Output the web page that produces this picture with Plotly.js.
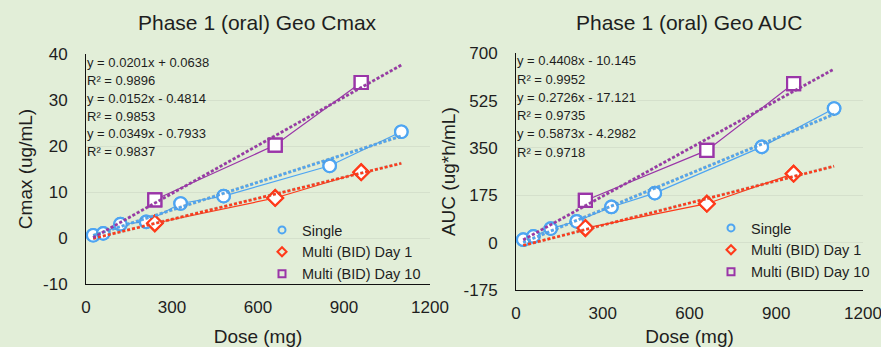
<!DOCTYPE html>
<html>
<head>
<meta charset="utf-8">
<script src="https://cdn.plot.ly/plotly-3.0.1.min.js"></script>
<style>html,body{margin:0;padding:0;background:#e2eed8;}#chart{width:881px;height:347px;}</style>
</head>
<body>
<div id="chart"></div>
<script>
// ---- data ----
const seriesNames = ['Single', 'Multi (BID) Day 1', 'Multi (BID) Day 10'];
const doseSingle = [25, 60, 120, 210, 330, 480, 850, 1100];
const doseMulti = [240, 660, 960];
const cmaxSingle = [0.6, 1.0, 3.0, 3.5, 7.5, 9.1, 15.7, 23.1];
const cmaxDay1 = [3.2, 8.7, 14.3];
const cmaxDay10 = [8.3, 20.2, 33.8];
const aucSingle = [11, 23, 52, 79, 132, 183, 354, 496];
const aucDay1 = [54, 144, 255];
const aucDay10 = [156, 341, 588];
const trendDose = [25, 1100];
const cmaxSlope = [0.0201, 0.0152, 0.0349];
const cmaxIntercept = [0.0638, -0.4814, -0.7933];
const cmaxR2 = [0.9896, 0.9853, 0.9837];
const aucSlope = [0.4408, 0.2726, 0.5873];
const aucIntercept = [-10.145, -17.121, -4.2982];
const aucR2 = [0.9952, 0.9735, 0.9718];
const xTicks = [0, 300, 600, 900, 1200];
const cmaxTicks = [-10, 0, 10, 20, 30, 40];
const aucTicks = [-175, 0, 175, 350, 525, 700];

// ---- styles ----
const colors = ['#4ea5f2', '#ff3a1a', '#9a35a8'];
const symbols = ['circle-open', 'diamond-open', 'square-open'];
const markerSize = [12.5, 12, 13];
const FONT = 'Liberation Sans, Arial, Helvetica, sans-serif';
const TXT = '#1e1e1e';
const BG = '#e2eed8';

const traces = [];
function addChart(xa, ya, legendId, xs, ys, slopes, intercepts) {
  for (let i = 0; i < 3; i++) {
    traces.push({
      x: xs[i], y: ys[i], xaxis: xa, yaxis: ya, mode: 'lines+markers', showlegend: false,
      line: {color: colors[i], width: 1.2},
      marker: {symbol: symbols[i], size: markerSize[i], color: colors[i], line: {width: 2.2, color: colors[i]}},
      hoverinfo: 'x+y'
    });
  }
  for (let i = 0; i < 3; i++) {
    traces.push({
      x: xs[i], y: ys[i], xaxis: xa, yaxis: ya, mode: 'markers', showlegend: false,
      marker: {symbol: symbols[i].replace('-open', ''), size: markerSize[i], color: '#ffffff', line: {width: 2.2, color: colors[i]}},
      hoverinfo: 'skip'
    });
  }
  for (let i = 0; i < 3; i++) {
    const ty = trendDose.map(d => slopes[i] * d + intercepts[i]);
    traces.push({
      x: trendDose, y: ty, xaxis: xa, yaxis: ya,
      mode: 'lines', showlegend: false, line: {color: 'rgba(110,110,110,0.45)', width: 3.2, dash: '3px,2px'}, hoverinfo: 'skip'
    });
    traces.push({
      x: trendDose, y: ty, xaxis: xa, yaxis: ya,
      mode: 'lines', showlegend: false, line: {color: colors[i], width: 2.4, dash: '3px,2px'}, hoverinfo: 'skip'
    });
  }
  for (let i = 0; i < 3; i++) {
    traces.push({
      x: [null], y: [null], xaxis: xa, yaxis: ya, mode: 'markers', name: seriesNames[i], legend: legendId,
      marker: {symbol: symbols[i], size: 7, color: colors[i], line: {width: 2, color: colors[i]}}
    });
  }
}
addChart('x', 'y', 'legend', [doseSingle, doseMulti, doseMulti], [cmaxSingle, cmaxDay1, cmaxDay10], cmaxSlope, cmaxIntercept);
addChart('x2', 'y2', 'legend2', [doseSingle, doseMulti, doseMulti], [aucSingle, aucDay1, aucDay10], aucSlope, aucIntercept);

function eqText(s, b) {
  return 'y = ' + s + 'x ' + (b < 0 ? '- ' + Math.abs(b) : '+ ' + b);
}
const W = 881, H = 347;
const annotations = [];
function addEq(x0, ys, slopes, intercepts, r2) {
  const lines = [];
  for (let i = 0; i < 3; i++) { lines.push(eqText(slopes[i], intercepts[i])); lines.push('R² = ' + r2[i]); }
  lines.forEach((t, k) => annotations.push({
    xref: 'paper', yref: 'paper', x: x0 / W, y: 1 - ys[k] / H, xanchor: 'left', yanchor: 'middle',
    text: t, showarrow: false, font: {family: FONT, size: 13, color: TXT}
  }));
}
addEq(85, [62.7, 80.5, 98.3, 116, 133.7, 151.5], cmaxSlope, cmaxIntercept, cmaxR2);
addEq(515, [61, 79, 97.3, 115.3, 133.7, 152], aucSlope, aucIntercept, aucR2);
annotations.push({xref: 'paper', yref: 'paper', x: 257 / W, y: 1 - 22 / H, xanchor: 'center', yanchor: 'middle',
  text: 'Phase 1 (oral) Geo Cmax', showarrow: false, font: {family: FONT, size: 21, color: TXT}});
annotations.push({xref: 'paper', yref: 'paper', x: 689 / W, y: 1 - 22 / H, xanchor: 'center', yanchor: 'middle',
  text: 'Phase 1 (oral) Geo AUC', showarrow: false, font: {family: FONT, size: 21, color: TXT}});

function xaxis(dom, anchor) {
  return {domain: dom, anchor: anchor, range: [0, 1200], tickvals: xTicks, ticktext: xTicks.map(String),
    showgrid: false, zeroline: false, showline: true, linecolor: '#111', linewidth: 1, ticks: '',
    ticklabelstandoff: 8, ticklabeloverflow: 'allow', tickfont: {family: FONT, size: 17, color: TXT},
    title: {text: 'Dose (mg)', font: {family: FONT, size: 19, color: TXT}, standoff: 14}};
}
function yaxis(dom, anchor, range, ticks, title, standoff) {
  return {domain: dom, anchor: anchor, range: range, tickvals: ticks, ticktext: ticks.map(String),
    showgrid: true, gridcolor: 'rgba(0,0,0,0.055)', gridwidth: 1, zeroline: false, showline: true,
    linecolor: '#111', linewidth: 1, ticks: '', ticklabelstandoff: 14, ticklabeloverflow: 'allow',
    tickfont: {family: FONT, size: 17, color: TXT},
    title: {text: title, font: {family: FONT, size: 19, color: TXT}, standoff: standoff}};
}

const layout = {
  width: W, height: H, margin: {l: 0, r: 0, t: 0, b: 0},
  paper_bgcolor: BG, plot_bgcolor: BG, font: {family: FONT, color: TXT},
  xaxis: xaxis([86 / W, 430 / W], 'y'),
  yaxis: yaxis([1 - 284 / H, 1 - 54 / H], 'x', [-10, 40], cmaxTicks, 'Cmax (ug/mL)', 5),
  xaxis2: xaxis([516 / W, 863 / W], 'y2'),
  yaxis2: yaxis([1 - 290 / H, 1 - 53.3 / H], 'x2', [-175, 700], aucTicks, 'AUC (ug*h/mL)', 2),
  legend: {x: 262 / W, y: 1 - 214 / H, xanchor: 'left', yanchor: 'top', bgcolor: 'rgba(0,0,0,0)',
    font: {family: FONT, size: 14.5, color: TXT}, itemwidth: 30, tracegroupgap: 0},
  legend2: {x: 711 / W, y: 1 - 212 / H, xanchor: 'left', yanchor: 'top', bgcolor: 'rgba(0,0,0,0)',
    font: {family: FONT, size: 14.5, color: TXT}, itemwidth: 30, tracegroupgap: 0},
  annotations: annotations,
  showlegend: true
};
Plotly.newPlot('chart', traces, layout, {staticPlot: true});
</script>
</body>
</html>
